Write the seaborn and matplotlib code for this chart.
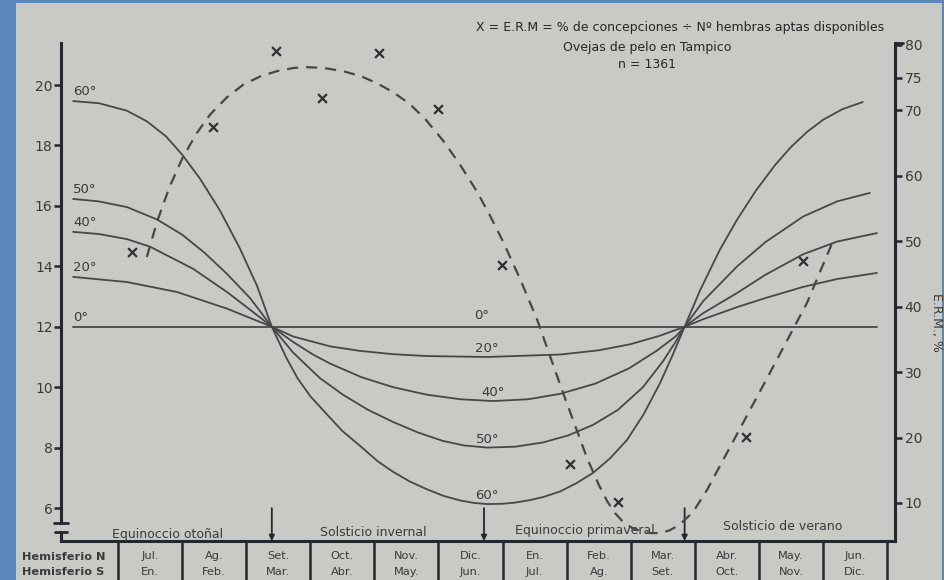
import matplotlib
matplotlib.use("Agg")
import matplotlib.pyplot as plt
import seaborn as sns
from matplotlib.patches import Rectangle

# ---------------- data ----------------
months_n = ["Jul.", "Ag.", "Set.", "Oct.", "Nov.", "Dic.", "En.", "Feb.", "Mar.", "Abr.", "May.", "Jun."]
months_s = ["En.", "Feb.", "Mar.", "Abr.", "May.", "Jun.", "Jul.", "Ag.", "Set.", "Oct.", "Nov.", "Dic."]

# day length (hours) by latitude; x = month position (column index)
lat0_x = [-0.70, 11.84]
lat0_y = [12.0, 12.0]
lat20_x = [-0.70, 0.14, 0.92, 1.70, 2.40, 2.73, 3.31, 3.78, 4.30, 4.82, 5.76, 6.90, 7.50, 7.99, 8.45, 8.84,
           9.13, 9.66, 10.10, 10.69, 11.22, 11.84]
lat20_y = [13.65, 13.48, 13.15, 12.60, 12.00, 11.68, 11.35, 11.20, 11.09, 11.03, 11.00, 11.08, 11.22, 11.42,
           11.70, 12.00, 12.25, 12.65, 12.95, 13.32, 13.58, 13.78]
lat40_x = [-0.70, -0.30, 0.14, 0.50, 1.17, 1.70, 2.10, 2.40, 2.73, 3.05, 3.31, 3.80, 4.29, 4.82, 5.34, 5.85,
           6.40, 6.90, 7.45, 7.97, 8.40, 8.70, 8.84, 9.13, 9.66, 10.10, 10.69, 11.22, 11.84]
lat40_y = [15.14, 15.07, 14.90, 14.65, 13.92, 13.15, 12.50, 12.00, 11.50, 11.07, 10.78, 10.33, 10.00, 9.75,
           9.60, 9.54, 9.60, 9.78, 10.12, 10.62, 11.20, 11.68, 12.00, 12.45, 13.12, 13.72, 14.40, 14.82,
           15.10]
lat50_x = [-0.70, -0.30, 0.14, 0.61, 1.00, 1.35, 1.70, 2.06, 2.40, 2.73, 3.15, 3.51, 3.90, 4.29, 4.68, 5.07,
           5.40, 5.76, 6.20, 6.63, 7.02, 7.41, 7.80, 8.19, 8.50, 8.70, 8.84, 9.13, 9.66, 10.10, 10.69,
           11.22, 11.73]
lat50_y = [16.23, 16.15, 15.96, 15.55, 15.05, 14.45, 13.75, 12.95, 12.00, 11.15, 10.30, 9.75, 9.25, 8.85,
           8.50, 8.22, 8.07, 8.00, 8.03, 8.17, 8.40, 8.75, 9.25, 10.00, 10.85, 11.50, 12.00, 12.85, 14.00,
           14.80, 15.65, 16.15, 16.43]
lat60_x = [-0.70, -0.30, 0.14, 0.45, 0.75, 1.00, 1.28, 1.59, 1.90, 2.17, 2.40, 2.62, 2.80, 3.00, 3.26, 3.50,
           3.78, 4.05, 4.29, 4.55, 4.82, 5.08, 5.34, 5.55, 5.76, 6.00, 6.20, 6.42, 6.63, 6.90, 7.15, 7.41,
           7.68, 7.94, 8.20, 8.46, 8.65, 8.84, 9.08, 9.39, 9.66, 9.95, 10.25, 10.50, 10.75, 11.00, 11.30,
           11.62]
lat60_y = [19.47, 19.40, 19.15, 18.80, 18.30, 17.70, 16.90, 15.85, 14.60, 13.35, 12.00, 11.00, 10.30, 9.70,
           9.10, 8.55, 8.05, 7.55, 7.20, 6.88, 6.62, 6.40, 6.25, 6.17, 6.13, 6.14, 6.18, 6.26, 6.36, 6.55,
           6.82, 7.16, 7.65, 8.25, 9.10, 10.15, 11.05, 12.00, 13.20, 14.55, 15.55, 16.50, 17.35, 17.95,
           18.45, 18.85, 19.20, 19.44]
lat_names = ["0°", "20°", "40°", "50°", "60°"]

# E.R.M. (%) observed points
erm_x = [0.22, 1.48, 2.46, 3.18, 4.07, 5.00, 5.99, 7.05, 7.80, 9.80, 10.69]
erm_y = [48.4, 67.5, 79.1, 71.9, 78.8, 70.2, 46.4, 16.0, 10.2, 20.1, 47.0]

# hand-fitted E.R.M. curve (dashed)
fit_x = [0.45, 0.61, 0.80, 1.00, 1.22, 1.44, 1.70, 1.95, 2.22, 2.48, 2.75, 2.95, 3.20, 3.51, 3.80, 4.05,
         4.29, 4.55, 4.80, 5.07, 5.33, 5.60, 5.80, 6.01, 6.27, 6.54, 6.93, 7.32, 7.50, 7.63, 7.76, 7.88,
         8.02, 8.15, 8.30, 8.46, 8.60, 8.75, 8.97, 9.19, 9.70, 10.22, 10.75, 11.14]
fit_y = [47.6, 53.0, 58.2, 62.6, 66.4, 69.4, 72.0, 73.9, 75.2, 76.0, 76.5, 76.6, 76.5, 76.0, 75.2, 74.1,
         72.8, 71.0, 68.6, 65.4, 61.8, 57.6, 54.0, 49.9, 44.3, 38.0, 27.2, 16.8, 12.8, 10.3, 8.4, 7.1,
         6.2, 5.7, 5.4, 5.4, 5.8, 6.6, 8.6, 12.0, 21.3, 30.8, 40.6, 49.7]

left_ticks = [6, 8, 10, 12, 14, 16, 18, 20]
right_ticks = [10, 20, 30, 40, 50, 60, 70, 75, 80]

event_names = ["Equinoccio otoñal", "Solsticio invernal", "Equinoccio primaveral", "Solsticio de verano"]
event_x = [2.40, 5.71, 8.84]

title_lines = ["X = E.R.M = % de concepciones ÷ Nº hembras aptas disponibles",
               "Ovejas de pelo en Tampico", "n = 1361"]

# ---------------- style ----------------
sns.set_theme(style="white")
plt.rcParams['font.family'] = ['DejaVu Sans']
INK = "#3a3a3a"
SPINE = "#23272e"
PAPER = "#c9cac6"
W, H = 945, 580

fig = plt.figure(figsize=(W / 100, H / 100), dpi=100)
fig.patch.set_facecolor("#5b88bb")
fig.patches.append(Rectangle((16 / W, 0), 1 - 19 / W, 1 - 3 / H, transform=fig.transFigure,
                             facecolor=PAPER, edgecolor="none", zorder=-10))

ax = fig.add_axes([61 / W, 39 / H, 834 / W, 498 / H])
ax.set_facecolor("none")
ax2 = ax.twinx()
ax2.set_facecolor("none")

ax.set_xlim(-0.889, 12.122)
ax.set_ylim(4.908, 21.392)
ax2.set_ylim(4.192, 80.30)

curves = [(lat0_x, lat0_y), (lat20_x, lat20_y), (lat40_x, lat40_y), (lat50_x, lat50_y), (lat60_x, lat60_y)]
for (cx, cy) in curves:
    sns.lineplot(x=cx, y=cy, ax=ax, color="#474747", lw=1.3, sort=False, estimator=None)
for ln in ax.lines:
    ln.set_solid_joinstyle("round")

# curve labels: left and centre
for name, (cx, cy) in zip(lat_names, curves):
    ax.text(cx[0], cy[0] + 0.32, name, fontsize=9.5, color=INK, ha="left", va="center")
    i_min = min(range(len(cy)), key=lambda k: cy[k])
    xm = cx[i_min] if name != "0°" else 5.68
    ax.text(xm, cy[i_min] + (0.38 if name == "0°" else 0.27), name, fontsize=9.5, color=INK,
            ha="center", va="center")

# E.R.M.
sns.lineplot(x=fit_x, y=fit_y, ax=ax2, color="#474747", lw=1.6, sort=False, estimator=None)
ax2.lines[-1].set_dashes([5, 3.6])
sns.scatterplot(x=erm_x, y=erm_y, ax=ax2, marker="x", s=40, color="#2f2f2f", linewidth=1.6, zorder=5)

# spines
for s in ["top", "right"]:
    ax.spines[s].set_visible(False)
for s in ["top", "left", "bottom"]:
    ax2.spines[s].set_visible(False)
for sp in [ax.spines["left"], ax.spines["bottom"], ax2.spines["right"]]:
    sp.set_linewidth(2.2)
    sp.set_color(SPINE)
ax.spines["left"].set_bounds(5.5, 21.392)

ax.set_xticks([])
ax.set_yticks(left_ticks)
ax.set_yticklabels([str(t) for t in left_ticks])
ax.tick_params(axis="y", direction="out", length=5, width=1.8, color=SPINE, labelsize=10,
               labelcolor=INK, pad=1)
ax2.set_yticks(right_ticks)
ax2.set_yticklabels([str(t) for t in right_ticks])
ax2.tick_params(axis="y", direction="out", length=5, width=1.8, color=SPINE, labelsize=10,
                labelcolor=INK, pad=2)
ax.set_ylabel("")
ax2.set_ylabel("")
ax.grid(False)
ax2.grid(False)

# axis break on the left axis and cap on the right axis
yt = ax.get_yaxis_transform()
ax.plot([-0.008, 0.008], [5.5, 5.5], transform=yt, color=SPINE, lw=2, clip_on=False)
ax.plot([-0.007, 0.007], [5.2, 5.2], transform=yt, color=SPINE, lw=2, clip_on=False)
ax.plot([0, 0], [5.2, 4.908], transform=yt, color=SPINE, lw=2.2, clip_on=False)
ax2.plot([1.0, 1.0095], [80.30, 80.30], transform=ax2.get_yaxis_transform(), color=SPINE, lw=2,
         clip_on=False)

# month table below the axis
xt = ax.get_xaxis_transform()
for k in range(len(months_n) + 1):
    ax.plot([k, k], [0, -0.08], transform=xt, color=SPINE, lw=1.8, clip_on=False)
for k, (mn, ms) in enumerate(zip(months_n, months_s)):
    ax.text(k + 0.5, -0.031, mn, transform=xt, ha="center", va="center", fontsize=8.2, color=INK)
    ax.text(k + 0.5, -0.062, ms, transform=xt, ha="center", va="center", fontsize=8.2, color=INK)
fig.text(22 / W, 1 - 556.5 / H, "Hemisferio N", fontsize=8.2, color=INK, fontweight="bold",
         ha="left", va="center")
fig.text(22 / W, 1 - 572 / H, "Hemisferio S", fontsize=8.2, color=INK, fontweight="bold",
         ha="left", va="center")

# events: arrows + labels
for ex in event_x:
    ax.annotate("", xy=(ex, 0.0), xytext=(ex, 0.066), xycoords=xt, textcoords=xt,
                arrowprops=dict(arrowstyle="-|>", color=SPINE, lw=1.3, mutation_scale=8,
                                shrinkA=0, shrinkB=0))
ev_pos = [(0.78, 0.013), (3.98, 0.017), (7.29, 0.021), (10.37, 0.029)]
for name, (px, py) in zip(event_names, ev_pos):
    ax.text(px, py, name, transform=xt, ha="center", va="center", fontsize=9, color=INK)

# titles
fig.text(680 / W, 1 - 28 / H, title_lines[0], fontsize=9, color="#262626", ha="center", va="center")
fig.text(647 / W, 1 - 48 / H, title_lines[1], fontsize=9, color="#262626", ha="center", va="center")
fig.text(647 / W, 1 - 65 / H, title_lines[2], fontsize=9, color="#262626", ha="center", va="center")
fig.text(937 / W, 1 - 322 / H, "E.R.M., %", fontsize=9, color=INK, rotation=-90,
         ha="center", va="center")

fig.savefig("out.png", dpi=100, facecolor=fig.get_facecolor())
